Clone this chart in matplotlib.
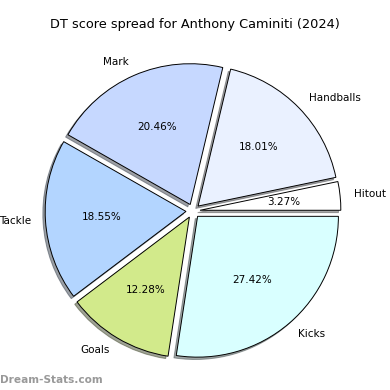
import matplotlib
matplotlib.use('Agg')
import matplotlib.pyplot as plt

# DT score spread
labels = ['Hitout', 'Handballs', 'Mark', 'Tackle', 'Goals', 'Kicks']
shares = [3.27, 18.01, 20.46, 18.55, 12.28, 27.42]
colours = ['#ffffff', '#eaf1ff', '#c6d8ff', '#b3d5ff', '#d2ea8b', '#d9ffff']

fig = plt.figure(figsize=(3.9, 3.9), dpi=100)
ax = fig.add_axes([0.0436, 0.0077, 0.9026, 0.9026])

ax.pie(shares, labels=labels, colors=colours, startangle=0,
       explode=[0.05] * len(shares),
       shadow={'ox': -0.012, 'oy': -0.012, 'shade': 0.7},
       autopct='%1.2f%%', pctdistance=0.6, labeldistance=1.1,
       wedgeprops={'edgecolor': 'black', 'linewidth': 0.7},
       textprops={'fontsize': 7.5})
ax.set_aspect('equal')

fig.text(0.5, 0.936, 'DT score spread for Anthony Caminiti (2024)',
         ha='center', va='center', fontsize=9.3)
fig.text(0.0, 0.025, 'Dream-Stats.com', ha='left', va='center',
         fontsize=7.6, color='#999999', fontweight='bold')

fig.savefig('out.png', dpi=100)
